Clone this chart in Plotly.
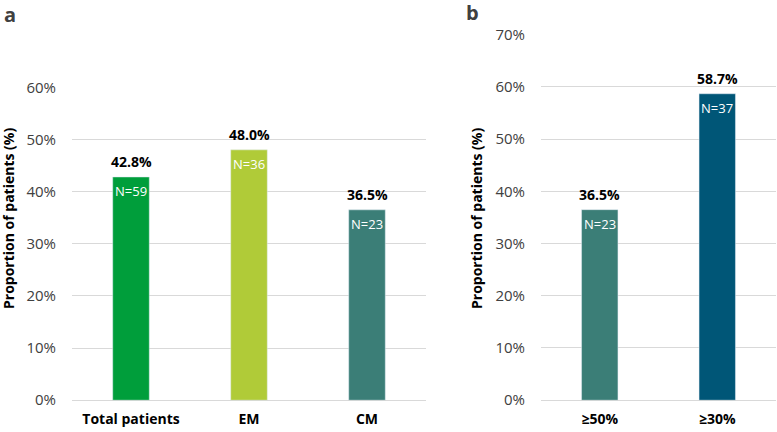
import plotly.graph_objects as go
from plotly.subplots import make_subplots

# panel a
cats_a = ["Total patients", "EM", "CM"]
vals_a = [42.8, 48.0, 36.5]
n_a = [59, 36, 23]
colors_a = ["#009e3b", "#b0cb38", "#3b7e77"]

# panel b
cats_b = ["≥50%", "≥30%"]
vals_b = [36.5, 58.7]
n_b = [23, 37]
colors_b = ["#3b7e77", "#005677"]

W, H = 777, 432
FONT = "Open Sans"
grid = "#d9d9d9"
txt = "#404040"


def py(y_from_top):
    # paper fraction for a pixel row measured from the top
    # (the photo adds ~8px on top and squeezes rows by ~0.963)
    return 1 - ((y_from_top - 8) / 0.963) / H


fig = make_subplots(rows=1, cols=2)

fig.add_trace(go.Bar(x=cats_a, y=vals_a, marker_color=colors_a, width=0.31,
                     hoverinfo="skip"), row=1, col=1)
fig.add_trace(go.Bar(x=cats_b, y=vals_b, marker_color=colors_b, width=0.31,
                     hoverinfo="skip"), row=1, col=2)

annots = []
for xr, yr, cats, vals, ns in [("x", "y", cats_a, vals_a, n_a), ("x2", "y2", cats_b, vals_b, n_b)]:
    for c, v, n in zip(cats, vals, ns):
        # value above the bar
        annots.append(dict(x=c, y=v, xref=xr, yref=yr, text="<b>%.1f%%</b>" % v,
                           showarrow=False, yanchor="bottom", yshift=4,
                           font=dict(family=FONT, size=14, color="black")))
        # N inside the bar
        annots.append(dict(x=c, y=v, xref=xr, yref=yr, text="N=%d" % n,
                           showarrow=False, yanchor="top", yshift=-3,
                           font=dict(family=FONT, size=13, color="white")))

# panel letters and y titles
annots.append(dict(x=2 / W, y=py(12), xref="paper", yref="paper", text="<b>a</b>",
                   showarrow=False, xanchor="left", yanchor="middle",
                   font=dict(family=FONT, size=20, color=txt)))
annots.append(dict(x=464 / W, y=py(10), xref="paper", yref="paper", text="<b>b</b>",
                   showarrow=False, xanchor="left", yanchor="middle",
                   font=dict(family=FONT, size=20, color=txt)))
for xc in [9, 477]:
    annots.append(dict(x=xc / W, y=py(218), xref="paper", yref="paper",
                       text="<b>Proportion of patients (%)</b>", textangle=-90,
                       showarrow=False, xanchor="center", yanchor="middle",
                       font=dict(family=FONT, size=14, color="black")))

axis_y = dict(ticksuffix="%", showgrid=True, gridcolor=grid, gridwidth=1,
              zeroline=True, zerolinecolor=grid, zerolinewidth=1, showline=False,
              tickfont=dict(family=FONT, size=15, color=txt), ticks="", dtick=10,
              ticklabelstandoff=15)
axis_x = dict(showgrid=False, showline=False, ticks="", ticklabelstandoff=9,
              tickfont=dict(family=FONT, size=14, color="black"))

fig.update_layout(
    width=W, height=H,
    margin=dict(l=0, r=0, t=0, b=0),
    plot_bgcolor="white", paper_bgcolor="white",
    showlegend=False,
    annotations=annots,
    xaxis=dict(domain=[72 / W, 426 / W], **axis_x),
    xaxis2=dict(domain=[541 / W, 776 / W], **axis_x),
    yaxis=dict(domain=[py(401), py(85)], range=[0, 60], **axis_y),
    yaxis2=dict(domain=[py(401), py(32)], range=[0, 70], **axis_y),
)
fig.update_xaxes(tickprefix="<b>", ticksuffix="</b>")

fig.write_html("out.html", post_script="document.body.style.margin='0';",
               config=dict(displayModeBar=False))
